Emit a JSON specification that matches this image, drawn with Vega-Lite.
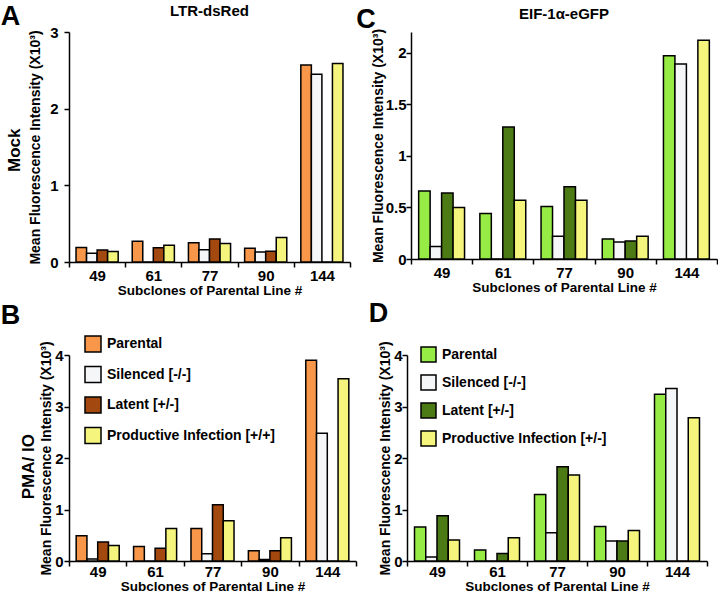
{
  "$schema": "https://vega.github.io/schema/vega-lite/v6.json",
  "background": "white",
  "padding": {"left": 0, "top": 3, "right": 0, "bottom": 0},
  "config": {
    "font": "Liberation Sans",
    "view": {"stroke": null},
    "axis": {"labelFont": "Liberation Sans", "labelFontWeight": "bold", "labelFontSize": 15, "labelColor": "black", "titleFont": "Liberation Sans", "titleFontWeight": "bold", "titleFontSize": 14, "titleColor": "black", "domainColor": "black", "domainWidth": 1.5, "tickColor": "black", "tickWidth": 1.5, "tickSize": 5, "grid": false},
    "axisX": {"labelAngle": 0, "tickBand": "extent", "tickSize": 5, "labelPadding": 1, "titlePadding": 0, "titleFontSize": 13.5},
    "title": {"font": "Liberation Sans", "fontWeight": "bold", "color": "black"},
    "legend": {"labelFont": "Liberation Sans", "labelFontWeight": "bold", "labelFontSize": 14, "labelColor": "black", "labelLimit": 400}
  },
  "datasets": {
    "d": [
      {"panel": "A", "clone": "49", "series": "Parental", "mfi": 0.19},
      {"panel": "A", "clone": "49", "series": "Silenced [-/-]", "mfi": 0.115},
      {"panel": "A", "clone": "49", "series": "Latent [+/-]", "mfi": 0.155},
      {"panel": "A", "clone": "49", "series": "Productive Infection [+/+]", "mfi": 0.137},
      {"panel": "A", "clone": "61", "series": "Parental", "mfi": 0.27},
      {"panel": "A", "clone": "61", "series": "Silenced [-/-]", "mfi": 0},
      {"panel": "A", "clone": "61", "series": "Latent [+/-]", "mfi": 0.186},
      {"panel": "A", "clone": "61", "series": "Productive Infection [+/+]", "mfi": 0.22},
      {"panel": "A", "clone": "77", "series": "Parental", "mfi": 0.25},
      {"panel": "A", "clone": "77", "series": "Silenced [-/-]", "mfi": 0.16},
      {"panel": "A", "clone": "77", "series": "Latent [+/-]", "mfi": 0.30},
      {"panel": "A", "clone": "77", "series": "Productive Infection [+/+]", "mfi": 0.24},
      {"panel": "A", "clone": "90", "series": "Parental", "mfi": 0.18},
      {"panel": "A", "clone": "90", "series": "Silenced [-/-]", "mfi": 0.13},
      {"panel": "A", "clone": "90", "series": "Latent [+/-]", "mfi": 0.14},
      {"panel": "A", "clone": "90", "series": "Productive Infection [+/+]", "mfi": 0.32},
      {"panel": "A", "clone": "144", "series": "Parental", "mfi": 2.57},
      {"panel": "A", "clone": "144", "series": "Silenced [-/-]", "mfi": 2.45},
      {"panel": "A", "clone": "144", "series": "Latent [+/-]", "mfi": 0},
      {"panel": "A", "clone": "144", "series": "Productive Infection [+/+]", "mfi": 2.59},

      {"panel": "B", "clone": "49", "series": "Parental", "mfi": 0.49},
      {"panel": "B", "clone": "49", "series": "Silenced [-/-]", "mfi": 0.04},
      {"panel": "B", "clone": "49", "series": "Latent [+/-]", "mfi": 0.37},
      {"panel": "B", "clone": "49", "series": "Productive Infection [+/+]", "mfi": 0.30},
      {"panel": "B", "clone": "61", "series": "Parental", "mfi": 0.28},
      {"panel": "B", "clone": "61", "series": "Silenced [-/-]", "mfi": 0},
      {"panel": "B", "clone": "61", "series": "Latent [+/-]", "mfi": 0.25},
      {"panel": "B", "clone": "61", "series": "Productive Infection [+/+]", "mfi": 0.63},
      {"panel": "B", "clone": "77", "series": "Parental", "mfi": 0.63},
      {"panel": "B", "clone": "77", "series": "Silenced [-/-]", "mfi": 0.14},
      {"panel": "B", "clone": "77", "series": "Latent [+/-]", "mfi": 1.09},
      {"panel": "B", "clone": "77", "series": "Productive Infection [+/+]", "mfi": 0.78},
      {"panel": "B", "clone": "90", "series": "Parental", "mfi": 0.20},
      {"panel": "B", "clone": "90", "series": "Silenced [-/-]", "mfi": 0.03},
      {"panel": "B", "clone": "90", "series": "Latent [+/-]", "mfi": 0.20},
      {"panel": "B", "clone": "90", "series": "Productive Infection [+/+]", "mfi": 0.45},
      {"panel": "B", "clone": "144", "series": "Parental", "mfi": 3.90},
      {"panel": "B", "clone": "144", "series": "Silenced [-/-]", "mfi": 2.48},
      {"panel": "B", "clone": "144", "series": "Latent [+/-]", "mfi": 0},
      {"panel": "B", "clone": "144", "series": "Productive Infection [+/+]", "mfi": 3.54},

      {"panel": "C", "clone": "49", "series": "Parental", "mfi": 0.66},
      {"panel": "C", "clone": "49", "series": "Silenced [-/-]", "mfi": 0.12},
      {"panel": "C", "clone": "49", "series": "Latent [+/-]", "mfi": 0.64},
      {"panel": "C", "clone": "49", "series": "Productive Infection [+/-]", "mfi": 0.50},
      {"panel": "C", "clone": "61", "series": "Parental", "mfi": 0.44},
      {"panel": "C", "clone": "61", "series": "Silenced [-/-]", "mfi": 0},
      {"panel": "C", "clone": "61", "series": "Latent [+/-]", "mfi": 1.28},
      {"panel": "C", "clone": "61", "series": "Productive Infection [+/-]", "mfi": 0.57},
      {"panel": "C", "clone": "77", "series": "Parental", "mfi": 0.51},
      {"panel": "C", "clone": "77", "series": "Silenced [-/-]", "mfi": 0.22},
      {"panel": "C", "clone": "77", "series": "Latent [+/-]", "mfi": 0.70},
      {"panel": "C", "clone": "77", "series": "Productive Infection [+/-]", "mfi": 0.57},
      {"panel": "C", "clone": "90", "series": "Parental", "mfi": 0.195},
      {"panel": "C", "clone": "90", "series": "Silenced [-/-]", "mfi": 0.165},
      {"panel": "C", "clone": "90", "series": "Latent [+/-]", "mfi": 0.175},
      {"panel": "C", "clone": "90", "series": "Productive Infection [+/-]", "mfi": 0.22},
      {"panel": "C", "clone": "144", "series": "Parental", "mfi": 1.97},
      {"panel": "C", "clone": "144", "series": "Silenced [-/-]", "mfi": 1.89},
      {"panel": "C", "clone": "144", "series": "Latent [+/-]", "mfi": 0},
      {"panel": "C", "clone": "144", "series": "Productive Infection [+/-]", "mfi": 2.12},

      {"panel": "D", "clone": "49", "series": "Parental", "mfi": 0.66},
      {"panel": "D", "clone": "49", "series": "Silenced [-/-]", "mfi": 0.076},
      {"panel": "D", "clone": "49", "series": "Latent [+/-]", "mfi": 0.88},
      {"panel": "D", "clone": "49", "series": "Productive Infection [+/-]", "mfi": 0.41},
      {"panel": "D", "clone": "61", "series": "Parental", "mfi": 0.215},
      {"panel": "D", "clone": "61", "series": "Silenced [-/-]", "mfi": 0},
      {"panel": "D", "clone": "61", "series": "Latent [+/-]", "mfi": 0.146},
      {"panel": "D", "clone": "61", "series": "Productive Infection [+/-]", "mfi": 0.45},
      {"panel": "D", "clone": "77", "series": "Parental", "mfi": 1.29},
      {"panel": "D", "clone": "77", "series": "Silenced [-/-]", "mfi": 0.55},
      {"panel": "D", "clone": "77", "series": "Latent [+/-]", "mfi": 1.83},
      {"panel": "D", "clone": "77", "series": "Productive Infection [+/-]", "mfi": 1.67},
      {"panel": "D", "clone": "90", "series": "Parental", "mfi": 0.67},
      {"panel": "D", "clone": "90", "series": "Silenced [-/-]", "mfi": 0.39},
      {"panel": "D", "clone": "90", "series": "Latent [+/-]", "mfi": 0.39},
      {"panel": "D", "clone": "90", "series": "Productive Infection [+/-]", "mfi": 0.59},
      {"panel": "D", "clone": "144", "series": "Parental", "mfi": 3.24},
      {"panel": "D", "clone": "144", "series": "Silenced [-/-]", "mfi": 3.35},
      {"panel": "D", "clone": "144", "series": "Latent [+/-]", "mfi": 0},
      {"panel": "D", "clone": "144", "series": "Productive Infection [+/-]", "mfi": 2.78}
    ]
  },
  "resolve": {"scale": {"x": "independent", "y": "independent", "xOffset": "independent", "color": "independent"}},
  "spacing": 2,
  "vconcat": [
    {
      "spacing": 5,
      "resolve": {"scale": {"x": "independent", "y": "independent", "xOffset": "independent", "color": "independent"}},
      "hconcat": [
        {
          "title": {"text": "A", "anchor": "start", "fontSize": 27, "offset": -27, "dx": -5},
          "vconcat": [{
            "title": {"text": "Mock", "orient": "left", "anchor": "middle", "fontSize": 17, "offset": 5},
            "hconcat": [{
              "title": {"text": "LTR-dsRed", "fontSize": 15, "offset": 6},
              "width": 281, "height": 230,
              "data": {"name": "d"},
              "transform": [{"filter": "datum.panel === 'A'"}],
              "mark": {"type": "bar", "stroke": "black", "strokeWidth": 1.5},
              "encoding": {
                "x": {"field": "clone", "type": "nominal", "sort": ["49", "61", "77", "90", "144"], "scale": {"paddingInner": 0, "paddingOuter": 0}, "axis": {"title": "Subclones of Parental Line #"}},
                "xOffset": {"field": "series", "type": "nominal", "scale": {"domain": ["Parental", "Silenced [-/-]", "Latent [+/-]", "Productive Infection [+/+]"], "paddingInner": 0, "paddingOuter": 0.667}},
                "y": {"field": "mfi", "type": "quantitative", "scale": {"domain": [0, 3], "nice": false}, "axis": {"values": [0, 1, 2, 3], "format": "~g", "title": "Mean Fluorescence Intensity (X10³)", "labelPadding": 6, "titlePadding": 7}},
                "color": {"field": "series", "type": "nominal", "scale": {"domain": ["Parental", "Silenced [-/-]", "Latent [+/-]", "Productive Infection [+/+]"], "range": ["#f8974a", "#f4f6f8", "#a3480f", "#f5f47c"]}, "legend": null}
              }
            }]
          }]
        },
        {
          "title": {"text": "C", "anchor": "start", "fontSize": 27, "offset": -27, "dx": -15},
          "vconcat": [{
            "title": {"text": "EIF-1α-eGFP", "fontSize": 15, "offset": 6},
            "width": 306, "height": 227,
            "data": {"name": "d"},
            "transform": [{"filter": "datum.panel === 'C'"}],
            "mark": {"type": "bar", "stroke": "black", "strokeWidth": 1.5},
            "encoding": {
              "x": {"field": "clone", "type": "nominal", "sort": ["49", "61", "77", "90", "144"], "scale": {"paddingInner": 0, "paddingOuter": 0}, "axis": {"title": "Subclones of Parental Line #"}},
              "xOffset": {"field": "series", "type": "nominal", "scale": {"domain": ["Parental", "Silenced [-/-]", "Latent [+/-]", "Productive Infection [+/-]"], "paddingInner": 0, "paddingOuter": 0.667}},
              "y": {"field": "mfi", "type": "quantitative", "scale": {"domain": [0, 2.2], "nice": false}, "axis": {"values": [0, 0.5, 1, 1.5, 2], "format": "~g", "title": "Mean Fluorescence Intensity (X10³)", "labelPadding": 0, "titlePadding": 0}},
              "color": {"field": "series", "type": "nominal", "scale": {"domain": ["Parental", "Silenced [-/-]", "Latent [+/-]", "Productive Infection [+/-]"], "range": ["#96ec44", "#f4f6f8", "#4c7a14", "#f5f47c"]}, "legend": null}
            }
          }]
        }
      ]
    },
    {
      "spacing": 11,
      "resolve": {"scale": {"x": "independent", "y": "independent", "xOffset": "independent", "color": "independent"}},
      "hconcat": [
        {
          "title": {"text": "B", "anchor": "start", "fontSize": 27, "offset": 5, "dx": -19},
          "vconcat": [{
            "title": {"text": "PMA/ IO", "orient": "left", "anchor": "middle", "fontSize": 17, "offset": 2},
            "hconcat": [{
              "width": 287, "height": 206,
              "data": {"name": "d"},
              "transform": [{"filter": "datum.panel === 'B'"}],
              "mark": {"type": "bar", "stroke": "black", "strokeWidth": 1.5},
              "encoding": {
                "x": {"field": "clone", "type": "nominal", "sort": ["49", "61", "77", "90", "144"], "scale": {"paddingInner": 0, "paddingOuter": 0}, "axis": {"title": "Subclones of Parental Line #", "labelPadding": -2, "titlePadding": 0}},
                "xOffset": {"field": "series", "type": "nominal", "scale": {"domain": ["Parental", "Silenced [-/-]", "Latent [+/-]", "Productive Infection [+/+]"], "paddingInner": 0, "paddingOuter": 0.667}},
                "y": {"field": "mfi", "type": "quantitative", "scale": {"domain": [0, 4], "nice": false}, "axis": {"values": [0, 1, 2, 3, 4], "format": "~g", "title": "Mean Fluorescence Intensity (X10³)", "labelPadding": 1, "titlePadding": 1}},
                "color": {"field": "series", "type": "nominal", "scale": {"domain": ["Parental", "Silenced [-/-]", "Latent [+/-]", "Productive Infection [+/+]"], "range": ["#f8974a", "#f4f6f8", "#a3480f", "#f5f47c"]}, "legend": {"title": null, "orient": "none", "legendX": 15, "legendY": -20, "symbolType": "square", "symbolSize": 256, "symbolStrokeColor": "black", "symbolStrokeWidth": 1.5, "symbolOpacity": 1, "rowPadding": 8.5, "labelOffset": 5}}
              }
            }]
          }]
        },
        {
          "title": {"text": "D", "anchor": "start", "fontSize": 27, "offset": 13, "dx": -10},
          "vconcat": [{
            "width": 300, "height": 206,
            "data": {"name": "d"},
            "transform": [{"filter": "datum.panel === 'D'"}],
            "mark": {"type": "bar", "stroke": "black", "strokeWidth": 1.5},
            "encoding": {
              "x": {"field": "clone", "type": "nominal", "sort": ["49", "61", "77", "90", "144"], "scale": {"paddingInner": 0, "paddingOuter": 0}, "axis": {"title": "Subclones of Parental Line #", "labelPadding": -2, "titlePadding": 0}},
              "xOffset": {"field": "series", "type": "nominal", "scale": {"domain": ["Parental", "Silenced [-/-]", "Latent [+/-]", "Productive Infection [+/-]"], "paddingInner": 0, "paddingOuter": 0.667}},
              "y": {"field": "mfi", "type": "quantitative", "scale": {"domain": [0, 4], "nice": false}, "axis": {"values": [0, 1, 2, 3, 4], "format": "~g", "title": "Mean Fluorescence Intensity (X10³)", "labelPadding": 0, "titlePadding": 1}},
              "color": {"field": "series", "type": "nominal", "scale": {"domain": ["Parental", "Silenced [-/-]", "Latent [+/-]", "Productive Infection [+/-]"], "range": ["#96ec44", "#f4f6f8", "#4c7a14", "#f5f47c"]}, "legend": {"title": null, "orient": "none", "legendX": 13, "legendY": -9, "symbolType": "square", "symbolSize": 225, "symbolStrokeColor": "black", "symbolStrokeWidth": 1.5, "symbolOpacity": 1, "rowPadding": 7, "labelOffset": 5}}
            }
          }]
        }
      ]
    }
  ]
}
